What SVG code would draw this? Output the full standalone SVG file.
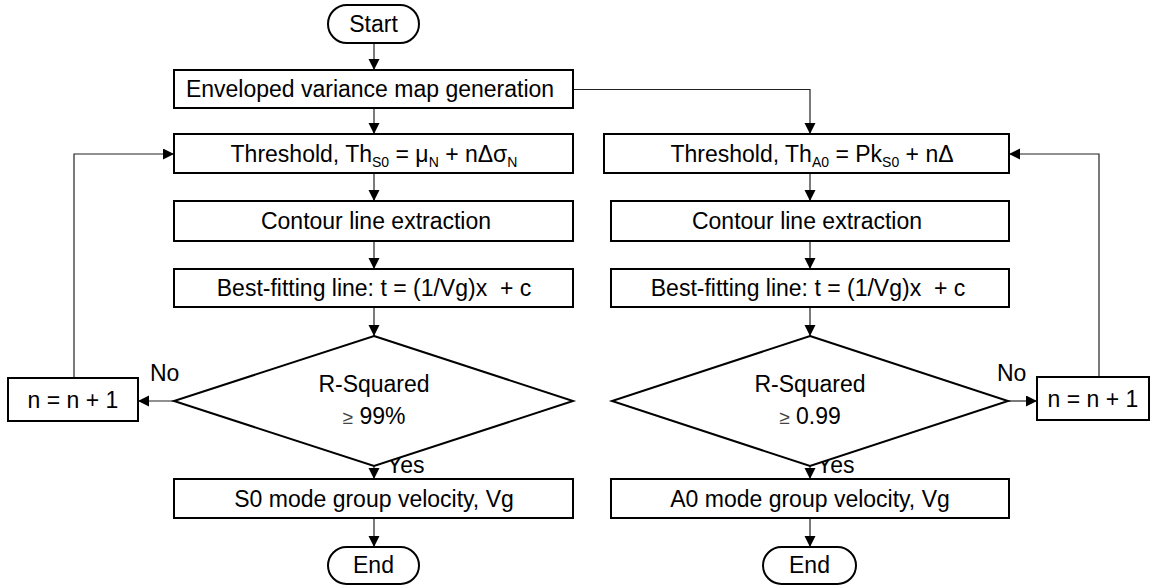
<svg xmlns="http://www.w3.org/2000/svg" width="1156" height="588" viewBox="0 0 1156 588">
<style>
.box{fill:#fff;stroke:#000;stroke-width:2}
.t{font-family:"Liberation Sans",Arial,sans-serif;font-size:23px;fill:#000;text-anchor:middle}
.l{font-family:"Liberation Sans",Arial,sans-serif;font-size:23px;fill:#000}
.c{fill:none;stroke:#222;stroke-width:1.2}
.sub{font-size:14px}
.ge{font-size:19px;fill:#444}
</style>
<defs>
<marker id="ah" markerUnits="userSpaceOnUse" markerWidth="12" markerHeight="12" refX="11" refY="5.5" orient="auto">
<path d="M0,0 L11,5.5 L0,11 z" fill="#000"/>
</marker>
</defs>
<g id="connectors">
<path class="c" d="M374,43 V70" marker-end="url(#ah)"/>
<path class="c" d="M374,108 V134" marker-end="url(#ah)"/>
<path class="c" d="M573,89.5 H810 V134" marker-end="url(#ah)"/>
<path class="c" d="M374,173 V201" marker-end="url(#ah)"/>
<path class="c" d="M374,241 V269" marker-end="url(#ah)"/>
<path class="c" d="M374,307 V336" marker-end="url(#ah)"/>
<path class="c" d="M374,466 V479" marker-end="url(#ah)"/>
<path class="c" d="M374,518 V547" marker-end="url(#ah)"/>
<path class="c" d="M174,401 H138" marker-end="url(#ah)"/>
<path class="c" d="M74,378 V154 H174" marker-end="url(#ah)"/>
<path class="c" d="M810,173 V201" marker-end="url(#ah)"/>
<path class="c" d="M810,241 V269" marker-end="url(#ah)"/>
<path class="c" d="M810,307 V336" marker-end="url(#ah)"/>
<path class="c" d="M810,466 V479" marker-end="url(#ah)"/>
<path class="c" d="M810,518 V547" marker-end="url(#ah)"/>
<path class="c" d="M1008,401 H1037" marker-end="url(#ah)"/>
<path class="c" d="M1099,377 V154 H1009" marker-end="url(#ah)"/>
<text class="l" x="150" y="381">No</text>
<text class="l" x="387" y="473">Yes</text>
<text class="l" x="997" y="381">No</text>
<text class="l" x="817" y="473">Yes</text>
</g>
<g id="start">
<rect class="box" x="328" y="5" width="91" height="38" rx="19"/>
<text class="t" x="373.5" y="32">Start</text>
</g>
<g id="envelope">
<rect class="box" x="174" y="70" width="399" height="38"/>
<text class="t" x="370" y="97">Enveloped variance map generation</text>
</g>
<g id="thresholdS0">
<rect class="box" x="174" y="134" width="399" height="39"/>
<text class="t" x="374" y="162">Threshold, Th<tspan class="sub" dy="5">S0</tspan><tspan dy="-5"> = μ</tspan><tspan class="sub" dy="5">N</tspan><tspan dy="-5"> + nΔσ</tspan><tspan class="sub" dy="5">N</tspan></text>
</g>
<g id="contourS0">
<rect class="box" x="174" y="201" width="399" height="40"/>
<text class="t" x="376" y="229">Contour line extraction</text>
</g>
<g id="fitS0">
<rect class="box" x="174" y="269" width="399" height="38"/>
<text class="t" x="374" y="296" xml:space="preserve">Best-fitting line: t = (1/Vg)x  + c</text>
</g>
<g id="decisionS0">
<polygon class="box" points="374,336 573,401 374,466 174,401"/>
<text class="t" x="374" y="392">R-Squared</text>
<text class="t" x="374" y="424"><tspan class="ge">≥</tspan> 99%</text>
</g>
<g id="incS0">
<rect class="box" x="8" y="378" width="130" height="43"/>
<text class="t" x="73" y="408">n = n + 1</text>
</g>
<g id="velS0">
<rect class="box" x="174" y="479" width="399" height="39"/>
<text class="t" x="374" y="507">S0 mode group velocity, Vg</text>
</g>
<g id="endS0">
<rect class="box" x="328" y="547" width="91" height="37" rx="18.5"/>
<text class="t" x="373.5" y="573">End</text>
</g>
<g id="thresholdA0">
<rect class="box" x="604" y="134" width="405" height="39"/>
<text class="t" x="812" y="162">Threshold, Th<tspan class="sub" dy="5">A0</tspan><tspan dy="-5"> = Pk</tspan><tspan class="sub" dy="5">S0</tspan><tspan dy="-5"> + nΔ</tspan></text>
</g>
<g id="contourA0">
<rect class="box" x="611" y="201" width="398" height="40"/>
<text class="t" x="807" y="229">Contour line extraction</text>
</g>
<g id="fitA0">
<rect class="box" x="611" y="269" width="398" height="38"/>
<text class="t" x="808" y="296" xml:space="preserve">Best-fitting line: t = (1/Vg)x  + c</text>
</g>
<g id="decisionA0">
<polygon class="box" points="810,336 1008,401 810,466 612,401"/>
<text class="t" x="810" y="392">R-Squared</text>
<text class="t" x="810" y="424"><tspan class="ge">≥</tspan> 0.99</text>
</g>
<g id="incA0">
<rect class="box" x="1037" y="377" width="112" height="43"/>
<text class="t" x="1093" y="407">n = n + 1</text>
</g>
<g id="velA0">
<rect class="box" x="611" y="479" width="398" height="39"/>
<text class="t" x="810" y="507">A0 mode group velocity, Vg</text>
</g>
<g id="endA0">
<rect class="box" x="763" y="547" width="93" height="37" rx="18.5"/>
<text class="t" x="809.5" y="573">End</text>
</g>
</svg>
